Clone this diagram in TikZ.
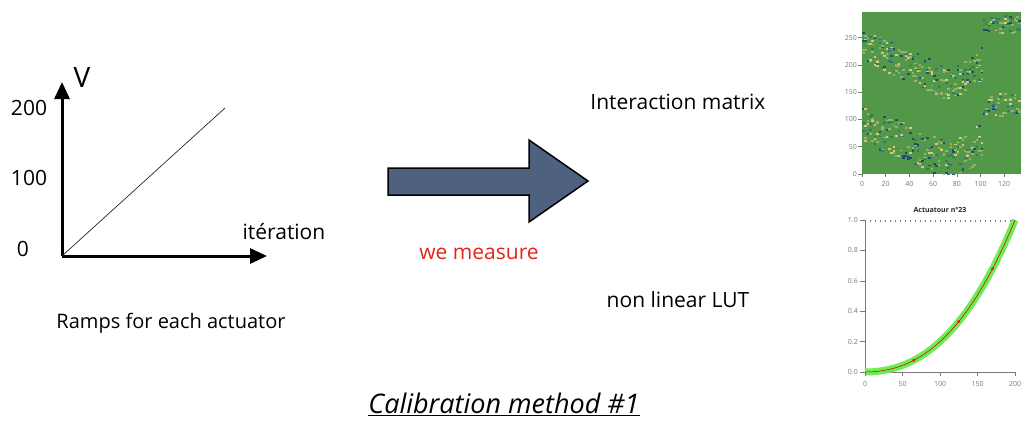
\documentclass[tikz,border=0pt]{standalone}
\usepackage{fontspec}
\setmainfont{Open Sans}
\usetikzlibrary{arrows.meta,positioning}
\definecolor{SlateArrow}{RGB}{78,98,128}
\definecolor{MeasureRed}{RGB}{226,38,28}
\definecolor{MatrixGreen}{RGB}{82,152,72}
\definecolor{HeatBlue}{RGB}{30,78,112}
\definecolor{HeatTeal}{RGB}{52,118,112}
\definecolor{HeatYellow}{RGB}{214,200,122}
\definecolor{HeatPale}{RGB}{150,178,104}
\definecolor{BandGreen}{RGB}{112,236,82}
\definecolor{PlotGray}{RGB}{120,120,120}
\tikzset{
  axis/.style={-{Triangle[length=17pt,width=15pt]},line width=3pt},
  ramp/.style={line width=0.7pt,draw=black!85},
  txt/.style={font=\fontsize{21}{23}\selectfont,inner sep=0pt},
  bigarrow/.style={draw=black,line width=1.5pt,fill=SlateArrow,line join=miter},
  ticklbl/.style={font=\fontsize{7}{8}\selectfont,text=PlotGray,inner sep=0pt},
  tickmark/.style={draw=PlotGray,line width=0.5pt}
}
\pgfmathdeclarerandomlist{heat}{{HeatBlue}{HeatTeal}{HeatYellow}{HeatPale}{HeatPale}}

\begin{document}
\begin{tikzpicture}[x=1pt,y=-1pt]
  \useasboundingbox (0,0) rectangle (1021,423);
  \pgfmathsetseed{11}

  % ramp plot
  \coordinate (origin) at (62,256);
  \coordinate (vtip) at (62,82);
  \coordinate (itip) at (267,256);
  \coordinate (rampend) at (225,108);
  \draw[axis] (origin) -- (vtip);
  \draw[axis] (origin) -- (itip);
  \draw[ramp] (origin) -- (rampend);
  \node[txt,font=\fontsize{28}{30}\selectfont] (vlbl) at (82,78) {V};
  \node[txt] (v200) at (29,108) {200};
  \node[txt] (v100) at (29,178) {100};
  \node[txt] (v0) at (23,249) {0};
  \node[txt] (iter) at (284,232) {itération};
  \node[txt,font=\fontsize{20}{22}\selectfont] (ramps) at (171,323) {Ramps for each actuator};

  % big arrow
  \draw[bigarrow] (388,168) -- (529,168) -- (529,140) -- (588,181)
    -- (529,222) -- (529,195) -- (388,195) -- cycle;
  \node[txt,text=MeasureRed] (measure) at (479,254) {we measure};

  \node[txt] (imat) at (678,102) {Interaction matrix};
  \node[txt] (lut) at (678,300) {non linear LUT};

  \node[txt,font=\fontsize{27}{29}\itshape] (title) at (504,404)
    {\underline{Calibration method \#1}};

  % interaction matrix
  \begin{scope}[shift={(862,174)},x=1.185pt,y=0.546pt]
    \clip (0,0) rectangle (134,297);
    \fill[MatrixGreen] (0,0) rectangle (134,297);
    \foreach \i in {0,...,50}{
      \pgfmathsetmacro\xx{2*\i}
      \pgfmathsetmacro\ylow{\xx<75 ? 90-0.95*\xx : 19+1.6*(\xx-75)}
      \pgfmathsetmacro\yup{\xx<75 ? 235-\xx : 160+1.6*(\xx-75)}
      \foreach \k in {1,...,4}{
        \pgfmathrandomitem{\hc}{heat}
        \pgfmathsetmacro\yy{\ylow+rand*35}
        \fill[\hc] (\xx,\yy) rectangle ++(2.2,3.5);
        \pgfmathrandomitem{\hc}{heat}
        \pgfmathsetmacro\yy{\yup+rand*30}
        \fill[\hc] (\xx,\yy) rectangle ++(2.2,3.5);
      }
    }
    \foreach \i in {0,...,16}{
      \pgfmathsetmacro\xx{102+2*\i}
      \foreach \k in {1,...,3}{
        \pgfmathrandomitem{\hc}{heat}
        \pgfmathsetmacro\yy{272+rand*16}
        \fill[\hc] (\xx,\yy) rectangle ++(2.2,3.5);
        \pgfmathrandomitem{\hc}{heat}
        \pgfmathsetmacro\yy{125+rand*22}
        \fill[\hc] (\xx,\yy) rectangle ++(2.2,3.5);
      }
    }
  \end{scope}
  \foreach \v in {0,20,...,120}{
    \draw[tickmark] ({862+1.185*\v},174) -- ++(0,3);
    \node[ticklbl] (mx\v) at ({862+1.185*\v},184) {\v};
  }
  \foreach \v in {0,50,...,250}{
    \draw[tickmark] ({862-4},{174-0.546*\v}) -- ++(4,0);
    \node[ticklbl,anchor=east] (my\v) at (857,{174-0.546*\v}) {\v};
  }

  % LUT curve
  \node[ticklbl,text=black!85,font=\fontsize{7}{8}\bfseries] (acttitle) at (940,210) {Actuatour n°23};
  \draw[tickmark] (865,220) -- (865,372) -- (1015,372);
  \foreach \i in {0,...,30}
    \draw[tickmark] ({865+5*\i},220) -- ++(0,2);
  \begin{scope}[shift={(865,372)},x=0.75pt,y=152pt]
    \draw[BandGreen,line width=7pt]
      plot[domain=0:200,samples=60] (\x,{(\x/200)^2*(0.6+0.4*\x/200)});
    \draw[red!75!black,line width=0.5pt]
      plot[domain=0:200,samples=60] (\x,{(\x/200)^2*(0.6+0.4*\x/200)});
    \foreach \p in {65,125,170}
      \fill[red!85!orange] (\p,{(\p/200)^2*(0.6+0.4*\p/200)}) circle (1.6pt);
  \end{scope}
  \foreach \v in {0,50,...,200}{
    \draw[tickmark] ({865+0.75*\v},372) -- ++(0,4);
    \node[ticklbl] (lx\v) at ({865+0.75*\v},384) {\v};
  }
  \foreach \v/\t in {0/0.0,0.2/0.2,0.4/0.4,0.6/0.6,0.8/0.8,1/1.0}{
    \draw[tickmark] (865,{372-152*\v}) -- ++(-5,0);
    \node[ticklbl,anchor=east] (ly\t) at (858,{372-152*\v}) {\t};
  }
\end{tikzpicture}
\end{document}
